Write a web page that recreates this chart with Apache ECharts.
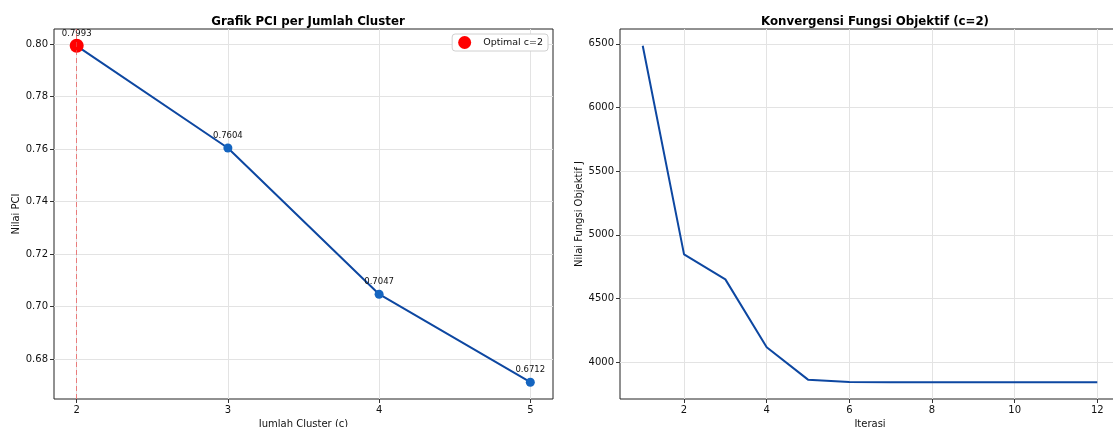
<!DOCTYPE html>
<html><head><meta charset="utf-8">
<script src="https://cdn.jsdelivr.net/npm/echarts@6/dist/echarts.min.js"></script>
<style>html,body{margin:0;padding:0;background:#fff}#c{width:1113px;height:427px}</style>
</head><body><div id="c"></div>
<script>
const clusters = [2, 3, 4, 5];
const pciValues = [0.7993, 0.7604, 0.7047, 0.6712];
const optimalC = 2;
const optimalPci = 0.7993;
const pciTicks = [0.68, 0.70, 0.72, 0.74, 0.76, 0.78, 0.80];
const clusterTicks = [2, 3, 4, 5];
const iterations = [1, 2, 3, 4, 5, 6, 7, 8, 9, 10, 11, 12];
const objValues = [6485, 4846, 4650, 4116, 3862, 3844, 3842, 3842, 3842, 3842, 3842, 3842];
const iterTicks = [2, 4, 6, 8, 10, 12];
const objTicks = [4000, 4500, 5000, 5500, 6000, 6500];

const FONT = 'DejaVu Sans';
const chart = echarts.init(document.getElementById('c'), null, {renderer: 'canvas'});
const gridLine = {show: true, lineStyle: {color: '#e3e3e3', width: 1}};
const tick = (vals) => ({show: true, length: 4, inside: false, customValues: vals, lineStyle: {color: '#333'}});
const lbl = (vals, fmt) => ({customValues: vals, color: '#111', fontSize: 10, fontFamily: FONT, margin: 6, formatter: fmt});

chart.setOption({
  animation: false,
  textStyle: {fontFamily: FONT},
  title: [
    {text: 'Grafik PCI per Jumlah Cluster', left: 303, top: 11, textAlign: 'center',
     textStyle: {fontSize: 11.8, fontWeight: 'bold', color: '#000', fontFamily: FONT}},
    {text: 'Konvergensi Fungsi Objektif (c=2)', left: 870, top: 11, textAlign: 'center',
     textStyle: {fontSize: 11.8, fontWeight: 'bold', color: '#000', fontFamily: FONT}}
  ],
  legend: {
    data: [{name: 'Optimal c=2', icon: 'circle', itemStyle: {color: '#ff0000', opacity: 1}}],
    right: 565, top: 34, itemWidth: 13, itemHeight: 13, itemGap: 6,
    borderColor: '#d0d0d0', borderWidth: 1, borderRadius: 3, padding: [2, 5, 2, 6],
    backgroundColor: '#fff',
    textStyle: {fontSize: 9.5, color: '#111', fontFamily: FONT, padding: [0, 0, 0, 7]}
  },
  grid: [
    {left: 54, top: 29, width: 499, height: 370, show: true, borderColor: '#222', borderWidth: 1, backgroundColor: '#fff', containLabel: false, outerBoundsMode: 'none'},
    {left: 620, top: 29, width: 500, height: 370, show: true, borderColor: '#222', borderWidth: 1, backgroundColor: '#fff', containLabel: false, outerBoundsMode: 'none'}
  ],
  xAxis: [
    {type: 'value', gridIndex: 0, min: 1.85, max: 5.15, name: 'Jumlah Cluster (c)', nameLocation: 'middle', nameGap: 19,
     nameTextStyle: {fontSize: 10, color: '#111', fontFamily: FONT},
     axisLine: {show: false}, axisTick: tick(clusterTicks), axisLabel: lbl(clusterTicks, v => String(v)), splitLine: gridLine},
    {type: 'value', gridIndex: 1, min: 0.45, max: 12.55, name: 'Iterasi', nameLocation: 'middle', nameGap: 19,
     nameTextStyle: {fontSize: 10, color: '#111', fontFamily: FONT},
     axisLine: {show: false}, axisTick: tick(iterTicks), axisLabel: lbl(iterTicks, v => String(v)), splitLine: gridLine}
  ],
  yAxis: [
    {type: 'value', gridIndex: 0, min: 0.6648, max: 0.8057, name: 'Nilai PCI', nameLocation: 'middle', nameGap: 33,
     nameTextStyle: {fontSize: 10, color: '#111', fontFamily: FONT},
     axisLine: {show: false}, axisTick: tick(pciTicks), axisLabel: lbl(pciTicks, v => v.toFixed(2)), splitLine: gridLine},
    {type: 'value', gridIndex: 1, min: 3710, max: 6617, name: 'Nilai Fungsi Objektif J', nameLocation: 'middle', nameGap: 34,
     nameTextStyle: {fontSize: 10, color: '#111', fontFamily: FONT},
     axisLine: {show: false}, axisTick: tick(objTicks), axisLabel: lbl(objTicks, v => String(v)), splitLine: gridLine}
  ],
  series: [
    {type: 'line', name: 'PCI', xAxisIndex: 0, yAxisIndex: 0,
     data: clusters.map((c, i) => [c, pciValues[i]]),
     lineStyle: {color: '#0d47a1', width: 2}, itemStyle: {color: '#1565c0'},
     symbol: 'circle', symbolSize: 9, showSymbol: true,
     label: {show: true, position: 'top', distance: 3, fontSize: 8.5, color: '#111', fontFamily: FONT,
             formatter: p => p.value[1].toFixed(4)},
     markLine: {silent: true, symbol: 'none', label: {show: false},
                lineStyle: {color: 'rgba(235,80,80,0.7)', type: [5, 3], width: 1},
                data: [{xAxis: optimalC}]},
     z: 3},
    {type: 'scatter', name: 'Optimal c=2', xAxisIndex: 0, yAxisIndex: 0,
     data: [[optimalC, optimalPci]], symbol: 'circle', symbolSize: 14,
     itemStyle: {color: '#ff0000', opacity: 1}, z: 4},
    {type: 'line', name: 'J', xAxisIndex: 1, yAxisIndex: 1,
     data: iterations.map((t, i) => [t, objValues[i]]),
     lineStyle: {color: '#0d47a1', width: 2}, showSymbol: false, symbol: 'none'}
  ]
});
</script></body></html>
